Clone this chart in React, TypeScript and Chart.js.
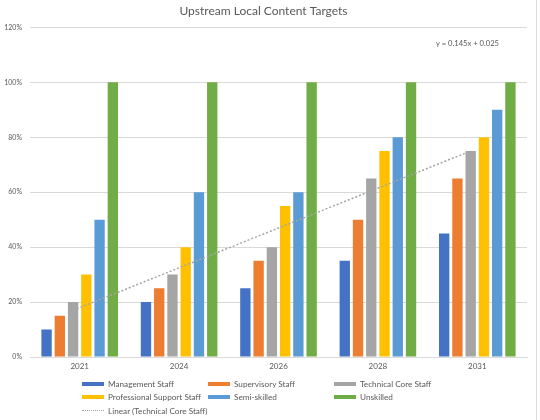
import React, { useEffect, useRef } from "react";
import { Chart, registerables } from "chart.js";

Chart.register(...registerables);

const categories = ["2021", "2024", "2026", "2028", "2031"];
const managementStaff = [10, 20, 25, 35, 45];
const supervisoryStaff = [15, 25, 35, 50, 65];
const technicalCoreStaff = [20, 30, 40, 65, 75];
const professionalSupportStaff = [30, 40, 55, 75, 80];
const semiSkilled = [50, 60, 60, 80, 90];
const unskilled = [100, 100, 100, 100, 100];
const trendValues = [17, 31.5, 46, 60.5, 75];
const trendEquation = "y = 0.145x + 0.025";
const yTicks = [0, 20, 40, 60, 80, 100, 120];

const seriesNames = [
  "Management Staff",
  "Supervisory Staff",
  "Technical Core Staff",
  "Professional Support Staff",
  "Semi-skilled",
  "Unskilled",
];
const seriesColors = ["#4472C4", "#ED7D31", "#A5A5A5", "#FFC000", "#5B9BD5", "#70AD47"];
const trendName = "Linear (Technical Core Staff)";

const FONT = "Lato, 'Open Sans', sans-serif";
const TEXT = "#595959";
const CAT_PCT = 0.8;
const TREND_INDEX = 6;

export default function App() {
  const ref = useRef<HTMLCanvasElement | null>(null);

  useEffect(() => {
    if (!ref.current) return;
    const seriesData = [
      managementStaff,
      supervisoryStaff,
      technicalCoreStaff,
      professionalSupportStaff,
      semiSkilled,
      unskilled,
    ];
    const eqPlugin = {
      id: "eq",
      afterDraw(chart: any) {
        const { ctx, chartArea } = chart;
        ctx.save();
        ctx.font = `7.6px ${FONT}`;
        ctx.fillStyle = TEXT;
        ctx.textAlign = "right";
        ctx.textBaseline = "middle";
        ctx.fillText(trendEquation, chartArea.right - 28, chartArea.top + 16);
        ctx.restore();
      },
    };
    // Trendline belongs to the Technical Core bar (3rd of 6): shift half a bar pitch left of category centre
    const shiftPlugin = {
      id: "trendShift",
      beforeDatasetDraw(chart: any, args: any) {
        if (args.index !== TREND_INDEX) return;
        const xs = chart.scales.x;
        const catW = xs.width / categories.length;
        chart.ctx.save();
        chart.ctx.translate((-catW * CAT_PCT) / 12, 0);
      },
      afterDatasetDraw(chart: any, args: any) {
        if (args.index !== TREND_INDEX) return;
        chart.ctx.restore();
      },
    };
    const chart = new Chart(ref.current, {
      type: "bar",
      data: {
        labels: categories,
        datasets: [
          ...seriesData.map((d, i) => ({
            type: "bar" as const,
            label: seriesNames[i],
            data: d,
            backgroundColor: seriesColors[i],
            categoryPercentage: CAT_PCT,
            barPercentage: 0.78,
            order: 2,
          })),
          {
            type: "line" as const,
            label: trendName,
            data: trendValues,
            borderColor: "#A5A5A5",
            borderWidth: 1.5,
            borderDash: [2, 2],
            pointRadius: 0,
            fill: false,
            order: 1,
          } as any,
        ],
      },
      options: {
        animation: false,
        responsive: false,
        layout: { padding: { left: 0, right: 13, top: 0, bottom: 48 } },
        plugins: {
          legend: { display: false },
          tooltip: { enabled: false },
          title: {
            display: true,
            text: "Upstream Local Content Targets",
            color: TEXT,
            font: { family: FONT, size: 12, weight: "normal" },
            padding: { top: 4, bottom: 9 },
          },
        },
        scales: {
          x: {
            type: "category",
            offset: true,
            grid: { display: false, drawTicks: false },
            border: { color: "#D9D9D9" },
            ticks: { color: TEXT, font: { family: FONT, size: 8 }, padding: 5 },
            afterFit: (s: any) => {
              s.height = 15;
            },
          },
          y: {
            min: 0,
            max: 120,
            afterBuildTicks: (s: any) => {
              s.ticks = yTicks.map((v) => ({ value: v }));
            },
            grid: { color: "#D9D9D9", drawTicks: false },
            border: { display: false },
            ticks: {
              color: TEXT,
              font: { family: FONT, size: 7 },
              padding: 8,
              callback: (v: any) => `${v}%`,
            },
            afterFit: (s: any) => {
              s.width = 30;
            },
          },
        },
      },
      plugins: [eqPlugin, shiftPlugin],
    });
    return () => chart.destroy();
  }, []);

  const legendItems = [
    ...seriesNames.map((n, i) => ({ name: n, color: seriesColors[i], dotted: false })),
    { name: trendName, color: "#A5A5A5", dotted: true },
  ];

  return (
    <div
      style={{
        position: "absolute",
        left: 0,
        top: 0,
        width: 540,
        height: 420,
        background: "#fff",
        fontFamily: FONT,
        overflow: "hidden",
      }}
    >
      <canvas ref={ref} width={540} height={420} style={{ display: "block" }} />
      <div style={{ position: "absolute", left: 536, top: 0, width: 1, height: 420, background: "#D9D9D9" }} />
      <div
        style={{
          position: "absolute",
          left: 82,
          top: 377,
          display: "grid",
          gridTemplateColumns: "126px 126px 126px",
          gridAutoRows: "13.5px",
        }}
      >
        {legendItems.map((it) => (
          <div
            key={it.name}
            style={{ display: "flex", alignItems: "center", fontSize: 8.2, color: TEXT, whiteSpace: "nowrap" }}
          >
            <span
              style={{
                display: "inline-block",
                width: 22,
                height: it.dotted ? 0 : 4,
                background: it.dotted ? "transparent" : it.color,
                borderTop: it.dotted ? `1.5px dotted ${it.color}` : "none",
                marginRight: 4,
                flexShrink: 0,
              }}
            />
            {it.name}
          </div>
        ))}
      </div>
    </div>
  );
}
